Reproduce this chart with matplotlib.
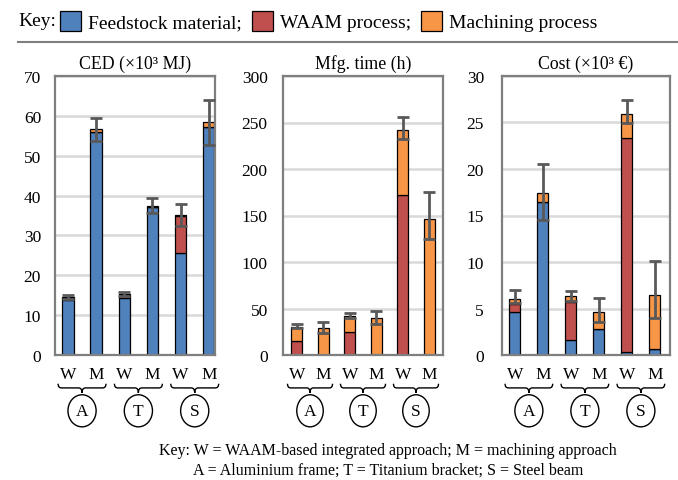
import numpy as np
import matplotlib
matplotlib.use("Agg")
from matplotlib import pyplot as plt
from matplotlib.path import Path
from matplotlib.patches import PathPatch, Ellipse
from matplotlib.lines import Line2D
import matplotlib.transforms as mtransforms

plt.rcParams['font.family'] = ['Liberation Serif', 'DejaVu Serif']
plt.rcParams['font.size'] = 12.5

# bars: W/M for Aluminium frame, Titanium bracket, Steel beam
bar_labels = ["W", "M", "W", "M", "W", "M"]
groups = ["A", "T", "S"]
titles = ["CED (×10³ MJ)", "Mfg. time (h)", "Cost (×10³ €)"]
series = ["Feedstock material;", "WAAM process;", "Machining process"]

ced_feed = [13.7, 56.0, 14.2, 37.2, 25.5, 57.2]
ced_waam = [0.6, 0.0, 0.8, 0.0, 9.3, 0.0]
ced_mach = [0.3, 0.6, 0.3, 0.3, 0.4, 1.2]
ced_lo = [0.5, 2.8, 0.55, 1.8, 2.9, 5.6]
ced_hi = [0.5, 2.9, 0.55, 1.9, 2.6, 5.6]

time_feed = [0, 0, 0, 0, 0, 0]
time_waam = [15.5, 0, 25, 0, 172, 0]
time_mach = [14.5, 29, 16.5, 40, 70, 146]
time_lo = [1.5, 5.3, 1.3, 6.6, 10, 21]
time_hi = [3.5, 6.0, 3.7, 7.4, 13.5, 29.5]

cost_feed = [4.6, 16.4, 1.6, 2.8, 0.3, 0.6]
cost_waam = [0.9, 0.0, 4.05, 0.0, 23.0, 0.0]
cost_mach = [0.5, 1.0, 0.65, 1.85, 2.6, 5.8]
cost_lo = [0.4, 2.9, 0.45, 1.15, 1.0, 2.4]
cost_hi = [0.95, 3.1, 0.6, 1.45, 1.5, 3.7]

ylims = [(70, 10), (300, 50), (30, 5)]

colors = ["#4f81bd", "#c0504d", "#f79646"]
grey = "#7f7f7f"


def brace(ax, x0, x1, yt, ym, yb):
    """underbrace from x0 to x1 (data x, axes y)"""
    xc = (x0 + x1) / 2
    d = 0.12
    verts = [(x0, yt), (x0, ym), (x0 + d, ym), (xc - d, ym), (xc, ym), (xc, yb),
             (xc, ym), (xc + d, ym), (x1 - d, ym), (x1, ym), (x1, yt)]
    codes = [Path.MOVETO, Path.CURVE3, Path.CURVE3, Path.LINETO, Path.CURVE3, Path.CURVE3,
             Path.CURVE3, Path.CURVE3, Path.LINETO, Path.CURVE3, Path.CURVE3]
    trans = mtransforms.blended_transform_factory(ax.transData, ax.transAxes)
    p = PathPatch(Path(verts, codes), fill=False, lw=1.0, color="black",
                  transform=trans, clip_on=False)
    ax.add_patch(p)


fig = plt.figure(figsize=(6.78, 4.81), dpi=100)
W, H = 678, 481
boxes = [(55, 215), (283, 443), (502, 670)]
xlims = [(-0.46, 5.22), (-0.52, 5.52), (-0.46, 5.54)]
pads = [10, 11, 13]

data = [(ced_feed, ced_waam, ced_mach, ced_lo, ced_hi),
        (time_feed, time_waam, time_mach, time_lo, time_hi),
        (cost_feed, cost_waam, cost_mach, cost_lo, cost_hi)]

x = np.arange(6)
handles = None
for i, (l, r) in enumerate(boxes):
    ax = fig.add_axes([l / W, 1 - 356 / H, (r - l) / W, 279 / H])
    feed, waam, mach, lo, hi = [np.array(v, dtype=float) for v in data[i]]
    b1 = ax.bar(x, feed, 0.4, color=colors[0], edgecolor="black", lw=0.9, zorder=2)
    b2 = ax.bar(x, waam, 0.4, bottom=feed, color=colors[1], edgecolor="black", lw=0.9, zorder=2)
    b3 = ax.bar(x, mach, 0.4, bottom=feed + waam, color=colors[2], edgecolor="black", lw=0.9, zorder=2)
    if i == 2:
        handles = [b1, b2, b3]
    total = feed + waam + mach
    ax.errorbar(x, total, yerr=[lo, hi], fmt="none", ecolor="#595959", elinewidth=2,
                capsize=4.5, capthick=2, zorder=3)

    ymax, step = ylims[i]
    ax.set_ylim(0, ymax)
    ax.set_yticks(np.arange(0, ymax + 1, step))
    ax.set_xlim(*xlims[i])
    ax.set_xticks(x, bar_labels)
    ax.tick_params(axis="both", length=0)
    ax.tick_params(axis="y", pad=pads[i])
    ax.tick_params(axis="x", pad=8)
    ax.grid(axis="y", color="#d9d9d9", lw=1.8, zorder=0)
    ax.set_axisbelow(True)
    for s in ax.spines.values():
        s.set_color(grey)
        s.set_linewidth(1.6)
    ax.set_title(titles[i], pad=6, fontsize=12.8)

    trans = mtransforms.blended_transform_factory(ax.transData, ax.transAxes)
    for g, name in enumerate(groups):
        x0 = 2 * g - 0.35
        x1 = 2 * g + 1.35
        brace(ax, x0, x1, -0.103, -0.118, -0.136)
        xc = 2 * g + 0.5
        ax.add_patch(Ellipse((xc, -0.2), 1.0, 0.115, fill=False, lw=1.0,
                             edgecolor="black", transform=trans, clip_on=False))
        ax.text(xc, -0.2, name, transform=trans, ha="center", va="center")

# top key
fig.text(18 / W, 1 - 22 / H, "Key:", ha="left", va="center", fontsize=14)
fig.legend(handles, series, loc="center left", bbox_to_anchor=(60 / W, 1 - 22 / H),
           ncol=3, frameon=False, borderpad=0, borderaxespad=0, fontsize=14,
           handlelength=1.1, handleheight=1.2, handletextpad=0.35, columnspacing=0.5)
fig.add_artist(Line2D([18 / W, 1.0], [1 - 43 / H, 1 - 43 / H], color=grey, lw=1.5))

fig.text(388 / W, 1 - 451 / H, "Key: W = WAAM-based integrated approach; M = machining approach",
         ha="center", va="center", fontsize=11.5)
fig.text(388 / W, 1 - 471 / H, "A = Aluminium frame; T = Titanium bracket; S = Steel beam",
         ha="center", va="center", fontsize=11.5)

fig.savefig("out.png", dpi=100)
